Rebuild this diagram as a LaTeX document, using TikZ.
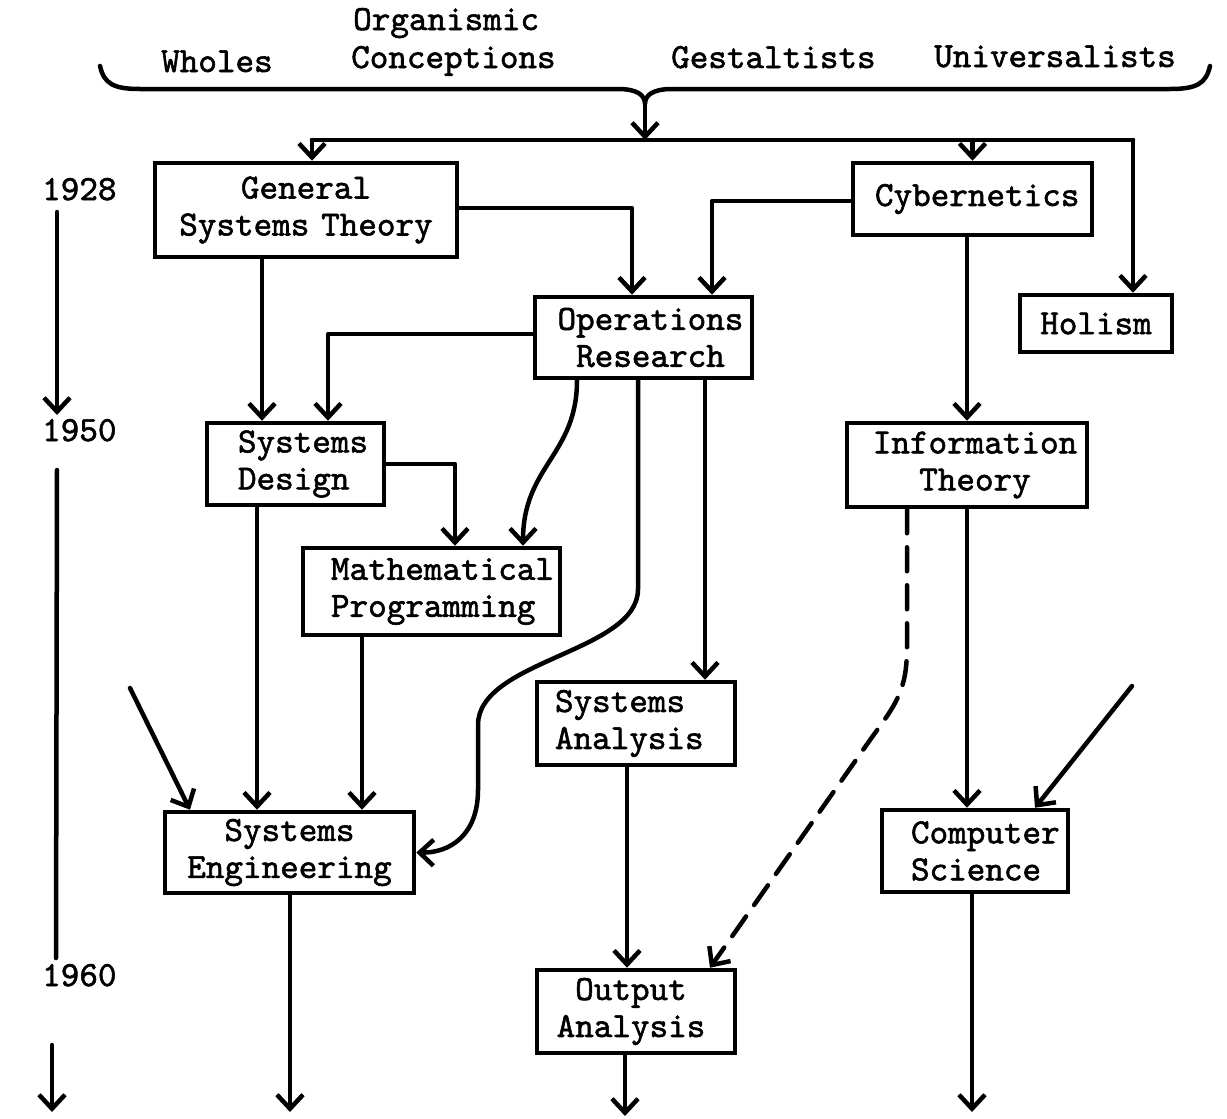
\documentclass[tikz,border=0pt]{standalone}
\usepackage{fontspec}
\newfontfamily\tyfont{lmmono10-regular}[Extension=.otf, FakeBold=1.6]
\usetikzlibrary{arrows.meta}
\begin{document}
\begin{tikzpicture}[x=1pt,y=-1pt,
  wire/.style={line width=4.5pt, line cap=round, line join=round},
  arr/.style={wire, -{Straight Barb[length=14pt,width=26pt]}},
  dasharr/.style={arr, dash pattern=on 24pt off 14pt},
  tw/.style={font=\tyfont\fontsize{35.4pt}{37pt}\selectfont},
  box/.style={tw, draw, line width=4.5pt, inner sep=0pt},
  txt/.style={tw, inner sep=0pt, anchor=base west}
]
\useasboundingbox (0,0) rectangle (1227,1119);

% schools of thought along the top
\node[txt] (org)  at (353,30)  {Organismic};
\node[txt] (who)  at (161,72)  {Wholes};
\node[txt] (con)  at (351,68)  {Conceptions};
\node[txt] (ges)  at (671,68)  {Gestaltists};
\node[txt] (uni)  at (934,67)  {Universalists};

% brace gathering them
\coordinate (bracetip) at (645,104);
\draw[wire] (100,66) .. controls (104,84) and (114,89) .. (140,89) -- (618,89)
  .. controls (637,89) and (645,95) .. (bracetip)
  .. controls (645,95) and (653,89) .. (672,89) -- (1170,89)
  .. controls (1196,89) and (1206,84) .. (1210,66);

% time axis
\node[txt] (y28) at (42,200) {1928};
\node[txt] (y50) at (42,441) {1950};
\node[txt] (y60) at (42,986) {1960};
\coordinate (ta) at (57,212);
\coordinate (tb) at (57,415);
\coordinate (tc) at (57,470);
\coordinate (td) at (56,958);
\coordinate (te) at (52,1045);
\coordinate (tf) at (52,1112);
\draw[arr] (ta) -- (tb);
\draw[wire] (tc) -- (td);
\draw[arr] (te) -- (tf);

% boxes
\node[box, text width=302pt, minimum height=94pt, align=center] (gst) at (306,210) {General\\Systems Theory};
\node[box, text width=239pt, minimum height=72pt, align=left] (cyb) at (972.5,199) {\hspace*{22pt}Cybernetics};
\node[box, text width=217pt, minimum height=81pt, align=center] (or) at (643.5,337.5) {\hspace*{14pt}Operations\\\hspace*{14pt}Research};
\node[box, text width=152pt, minimum height=57pt, align=center] (hol) at (1096,323.5) {Holism};
\node[box, text width=177pt, minimum height=82pt, align=left] (sd) at (295.5,464) {\hspace*{31pt}Systems\\\hspace*{31pt}Design};
\node[box, text width=240pt, minimum height=84pt, align=center] (it) at (967,465) {\hspace*{16pt}Information\\\hspace*{16pt}Theory};
\node[box, text width=257pt, minimum height=87pt, align=left] (mp) at (431.5,591.5) {\hspace*{28pt}Mathematical\\\hspace*{28pt}Programming};
\node[box, text width=198pt, minimum height=83pt, align=left] (sa) at (636,723.5) {\hspace*{18pt}Systems\\\hspace*{18pt}Analysis};
\node[box, text width=249pt, minimum height=81pt, align=center] (se) at (289.5,852.5) {Systems\\Engineering};
\node[box, text width=186pt, minimum height=82pt, align=left] (cs) at (975,851) {\hspace*{29pt}Computer\\\hspace*{29pt}Science};
\node[box, text width=198pt, minimum height=83pt, align=center] (oa) at (636,1011.5) {\hspace*{-10pt}Output\\\hspace*{-10pt}Analysis};

% distribution line below the brace
\coordinate (busL) at (312,140);
\coordinate (busR) at (1133,140);
\draw[arr] (bracetip) -- (bracetip |- busL);
\draw[wire] (busL) -- (busR);
\draw[arr] (busL) -- (busL |- gst.north);
\draw[arr] (cyb.north |- busL) -- (cyb.north);
\draw[arr] (busR) -- (busR |- hol.north);

% links between fields
\draw[arr] ([yshift=2]gst.east) -| ([xshift=-11.5]or.north);
\draw[arr] ([yshift=-2]cyb.west) -| ([xshift=68.5]or.north);
\draw[arr] ([xshift=-44]gst.south) -- ([xshift=-44]gst.south |- sd.north);
\draw[arr] ([yshift=3.5]or.west) -| ([xshift=32.5]sd.north);
\draw[arr] ([xshift=-66.5]or.south) .. controls +(0,75) and +(0,-80) .. ([xshift=91.5]mp.north);
\draw[arr] (sd.east) -| ([xshift=23.5]mp.north);
\coordinate (orS1) at (478,725);
\coordinate (orS2) at (478,790);
\draw[arr] ([xshift=-5.5]or.south) -- ++(0,209) .. controls +(0,63) and (478,660) .. (orS1)
  -- (orS2) .. controls (478,835) and (450,853) .. (se.east);
\draw[arr] ([xshift=61.5]or.south) -- ([xshift=61.5]or.south |- sa.north);
\draw[arr] (cyb.south -| it.north) -- (it.north);
\draw[arr] ([xshift=-38.5]sd.south) -- ([xshift=-38.5]sd.south |- se.north);
\draw[arr] ([xshift=-69.5]mp.south) -- ([xshift=-69.5]mp.south |- se.north);
\coordinate (seIn) at (130,688);
\draw[arr] (seIn) -- ([xshift=-99.5]se.north);
\draw[arr] (it.south) -- (it.south |- cs.north);
\coordinate (csIn) at (1132,686);
\draw[arr] (csIn) -- ([xshift=60]cs.north);
\coordinate (itD) at (870,740);
\draw[dasharr] ([xshift=-60]it.south) -- ++(0,138) .. controls +(0,45) and (895,705) .. (itD) -- ([xshift=74]oa.north);
\draw[arr] ([xshift=-9]sa.south) -- ([xshift=-9]oa.north);

% onward beyond 1960
\coordinate (seOut) at (290,1112);
\coordinate (oaOut) at (625,1116);
\coordinate (csOut) at (972,1112);
\draw[arr] (se.south -| seOut) -- (seOut);
\draw[arr] (oa.south -| oaOut) -- (oaOut);
\draw[arr] (cs.south -| csOut) -- (csOut);
\end{tikzpicture}
\end{document}
